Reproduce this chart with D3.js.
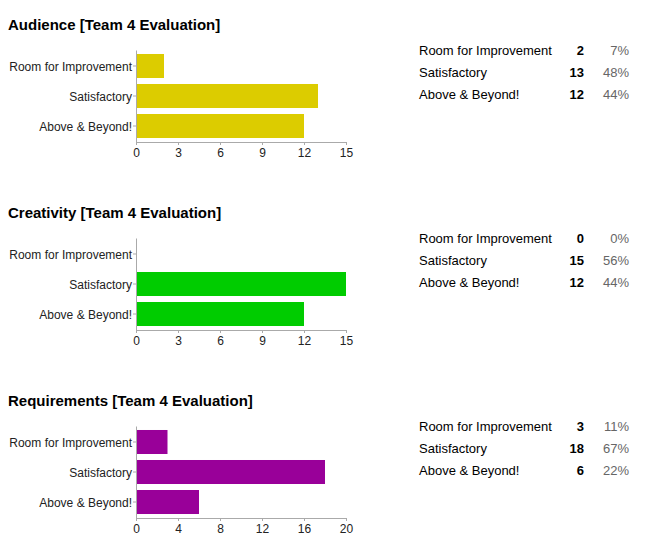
<!DOCTYPE html>
<html>
<head>
<meta charset="utf-8">
<script src="https://cdn.jsdelivr.net/npm/d3@7"></script>
<style>
  body { margin: 0; background: #fff; }
  svg { font-family: "Liberation Sans", Arial, sans-serif; display: block; }
  .axis path, .axis line { stroke: #aaa; }
  .axis text { fill: #222; font-size: 12px; }
</style>
</head>
<body>
<div id="container"></div>
<script>
{ // start block scope

  // data
  const categories = ["Room for Improvement", "Satisfactory", "Above & Beyond!"];
  const titles = [
    "Audience [Team 4 Evaluation]",
    "Creativity [Team 4 Evaluation]",
    "Requirements [Team 4 Evaluation]"
  ];
  const audienceCounts = [2, 13, 12];
  const creativityCounts = [0, 15, 12];
  const requirementsCounts = [3, 18, 6];
  const audiencePercents = ["7%", "48%", "44%"];
  const creativityPercents = ["0%", "56%", "44%"];
  const requirementsPercents = ["11%", "67%", "22%"];
  const ticks15 = [0, 3, 6, 9, 12, 15];
  const ticks20 = [0, 4, 8, 12, 16, 20];

  const color = {
    yellow: "#dccc00",
    green: "#00cc00",
    purple: "#990099",
    percent: "#666"
  };

  const panels = [
    { title: titles[0], counts: audienceCounts, percents: audiencePercents, ticks: ticks15, fill: color.yellow },
    { title: titles[1], counts: creativityCounts, percents: creativityPercents, ticks: ticks15, fill: color.green },
    { title: titles[2], counts: requirementsCounts, percents: requirementsPercents, ticks: ticks20, fill: color.purple }
  ];

  const width = 649;
  const height = 552;
  const panelStep = 188;

  var svg = d3.select('#container')
    .append('svg')
    .attr('width', width)
    .attr('height', height);

  panels.forEach((p, i) => drawPanel(p, i * panelStep));

  function drawPanel(panel, offsetY) {
    var g = svg.append('g')
      .attr('transform', `translate(0, ${offsetY})`);

    // title
    g.append('text')
      .attr('x', 8)
      .attr('y', 30)
      .attr('font-size', 15)
      .attr('font-weight', 'bold')
      .attr('fill', '#000')
      .text(panel.title);

    // scales
    const xScale = d3.scaleLinear()
      .domain([0, d3.max(panel.ticks)])
      .range([136, 346]);

    const yScale = d3.scaleBand()
      .domain(categories)
      .range([50, 142])
      .paddingInner(0.2)
      .paddingOuter(0.133);

    // bars
    g.selectAll('rect.bar')
      .data(categories.map((c, k) => ({ cat: c, value: panel.counts[k] })))
      .enter()
      .append('rect')
      .attr('class', 'bar')
      .attr('x', xScale(0) + 1)
      .attr('y', d => yScale(d.cat))
      .attr('width', d => Math.max(0, xScale(d.value) - xScale(0) - 1))
      .attr('height', yScale.bandwidth())
      .attr('fill', panel.fill);

    // x axis
    const xAxis = d3.axisBottom(xScale)
      .tickValues(panel.ticks)
      .tickSize(3)
      .tickSizeOuter(0)
      .tickPadding(3.5);
    g.append('g')
      .attr('class', 'axis')
      .attr('transform', 'translate(0, 142)')
      .call(xAxis)
      .call(a => a.selectAll('text').attr('font-size', 12));

    // y axis
    const yAxis = d3.axisLeft(yScale)
      .tickSize(3)
      .tickSizeOuter(0)
      .tickPadding(1);
    g.append('g')
      .attr('class', 'axis')
      .attr('transform', 'translate(136, 0)')
      .call(yAxis)
      .call(a => a.selectAll('text').attr('font-size', 12).attr('dy', '0.4em'));
    g.selectAll('.axis').attr('font-family', null);

    // summary table
    const rowY = [55, 77, 99];
    const rows = g.append('g')
      .attr('font-size', 13);
    categories.forEach((c, k) => {
      rows.append('text')
        .attr('x', 419)
        .attr('y', rowY[k])
        .attr('fill', '#000')
        .text(c);
      rows.append('text')
        .attr('x', 584)
        .attr('y', rowY[k])
        .attr('text-anchor', 'end')
        .attr('font-weight', 'bold')
        .attr('fill', '#000')
        .text(panel.counts[k]);
      rows.append('text')
        .attr('x', 629)
        .attr('y', rowY[k])
        .attr('text-anchor', 'end')
        .attr('fill', color.percent)
        .text(panel.percents[k]);
    });
  }

} // end block scope
</script>
</body>
</html>
